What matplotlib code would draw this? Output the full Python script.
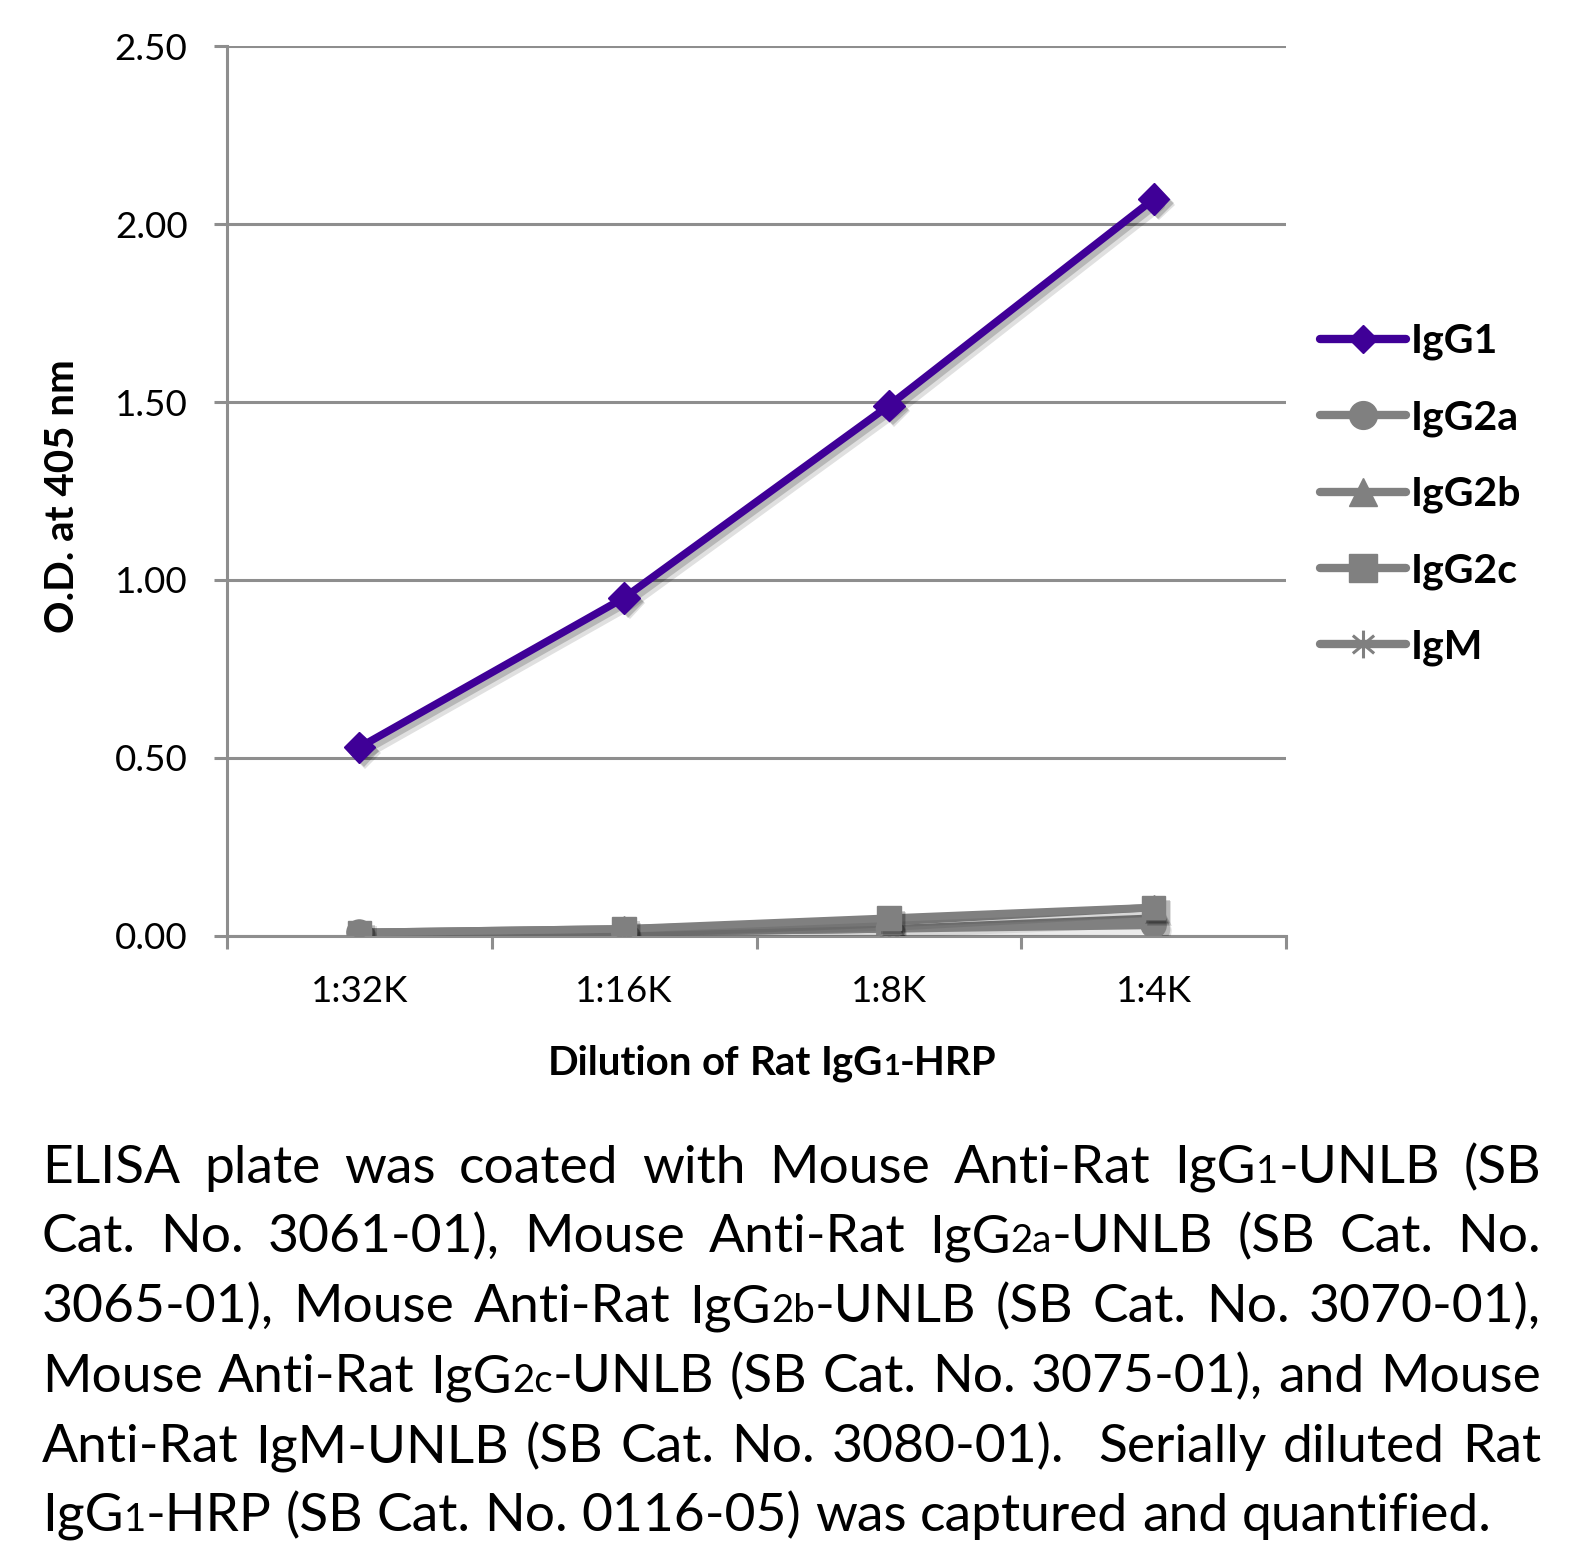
import re
import math
import matplotlib
matplotlib.use("Agg")
import matplotlib.pyplot as plt
import matplotlib.patheffects as pe
from matplotlib.lines import Line2D
from matplotlib.path import Path
from matplotlib.font_manager import FontProperties

# ---------------- data ----------------
dilutions = ["1:32K", "1:16K", "1:8K", "1:4K"]
series_names = ["IgG1", "IgG2a", "IgG2b", "IgG2c", "IgM"]
igg1 = [0.53, 0.95, 1.49, 2.07]
igg2a = [0.01, 0.01, 0.02, 0.03]
igg2b = [0.01, 0.02, 0.04, 0.08]
igg2c = [0.01, 0.02, 0.05, 0.08]
igm = [0.005, 0.01, 0.02, 0.05]
y_ticks = [0.0, 0.5, 1.0, 1.5, 2.0, 2.5]
y_tick_labels = ["0.00", "0.50", "1.00", "1.50", "2.00", "2.50"]

x_title = "Dilution of Rat IgG[1]-HRP"
y_title = "O.D. at 405 nm"
caption_lines = [
    "ELISA plate was coated with Mouse Anti-Rat IgG[1]-UNLB (SB",
    "Cat. No. 3061-01), Mouse Anti-Rat IgG[2a]-UNLB (SB Cat. No.",
    "3065-01), Mouse Anti-Rat IgG[2b]-UNLB (SB Cat. No. 3070-01),",
    "Mouse Anti-Rat IgG[2c]-UNLB (SB Cat. No. 3075-01), and Mouse",
    "Anti-Rat IgM-UNLB (SB Cat. No. 3080-01).  Serially diluted Rat",
    "IgG[1]-HRP (SB Cat. No. 0116-05) was captured and quantified.",
]

# ---------------- style ----------------
FONT = "Lato"
plt.rcParams["font.family"] = [FONT, "DejaVu Sans"]
PURPLE = "#3f0097"
GRAY = "#808080"
GRID = "#8e8e8e"

W, H = 1594, 1547
fig = plt.figure(figsize=(W / 100, H / 100), dpi=100)
fig.patch.set_facecolor("white")

ax_l, ax_r, ax_t, ax_b = 227, 1286, 46, 936
ax = fig.add_axes([ax_l / W, 1 - ax_b / H, (ax_r - ax_l) / W, (ax_b - ax_t) / H])

xs = list(range(len(dilutions)))

# asterisk marker for IgM
verts, codes = [], []
for a in [90, 40, 140]:
    dx, dy = math.cos(math.radians(a)), math.sin(math.radians(a))
    verts += [(-dx, -dy), (dx, dy)]
    codes += [Path.MOVETO, Path.LINETO]
star = Path(verts, codes)

styles = {
    "IgG1": dict(color=PURPLE, marker="D", ms=16),
    "IgG2a": dict(color=GRAY, marker="o", ms=18),
    "IgG2b": dict(color=GRAY, marker="^", ms=18),
    "IgG2c": dict(color=GRAY, marker="s", ms=17),
    "IgM": dict(color=GRAY, marker=star, ms=17),
}
values = {"IgG1": igg1, "IgG2a": igg2a, "IgG2b": igg2b, "IgG2c": igg2c, "IgM": igm}

purple_shadow = [pe.SimpleLineShadow(offset=(4, -4), shadow_color="k", alpha=0.12, linewidth=9),
                 pe.SimpleLineShadow(offset=(3, -3), shadow_color="k", alpha=0.18), pe.Normal()]
gray_shadow = [pe.SimpleLineShadow(offset=(3, -3), shadow_color="k", alpha=0.08, linewidth=7), pe.Normal()]
mark_shadow = [pe.SimplePatchShadow(offset=(4, -4), shadow_rgbFace="k", alpha=0.12),
               pe.SimplePatchShadow(offset=(3, -3), shadow_rgbFace="k", alpha=0.18), pe.Normal()]

order = ["IgM", "IgG2a", "IgG2b", "IgG2c", "IgG1"]
for z, name in enumerate(order):
    st = styles[name]
    ax.plot(xs, values[name], color=st["color"], lw=5.5, solid_capstyle="round",
            path_effects=purple_shadow if name == "IgG1" else gray_shadow, zorder=3 + z)
for z, name in enumerate(order):
    st = styles[name]
    if name == "IgM":
        ax.plot(xs, values[name], ls="none", marker=st["marker"], ms=st["ms"],
                mec=st["color"], mew=2.5, zorder=10 + z)
    else:
        ax.plot(xs, values[name], ls="none", marker=st["marker"], ms=st["ms"],
                mfc=st["color"], mec=st["color"], path_effects=mark_shadow, zorder=10 + z)

ax.set_xlim(-0.5, len(dilutions) - 0.5)
ax.set_ylim(0, 2.5)

for s in ["top", "right"]:
    ax.spines[s].set_visible(False)
for s in ["left", "bottom"]:
    ax.spines[s].set_color(GRID)
    ax.spines[s].set_linewidth(2.2)
    ax.spines[s].set_zorder(2)

ax.set_yticks(y_ticks)
ax.set_yticklabels(y_tick_labels)
ax.yaxis.grid(True, color=GRID, lw=2.2, zorder=1)
ax.set_axisbelow(True)
ax.tick_params(axis="y", direction="out", length=9.4, width=2.2, color=GRID,
               pad=19, labelsize=26.5, labelcolor="black")

ax.set_xticks(xs)
ax.set_xticklabels(dilutions)
ax.set_xticks([i - 0.5 for i in range(len(dilutions) + 1)], minor=True)
ax.tick_params(axis="x", which="major", length=0, pad=28, labelsize=26.5, labelcolor="black")
ax.tick_params(axis="x", which="minor", direction="out", length=9.4, width=2.2, color=GRID)

# legend
handles = []
for name in series_names:
    st = styles[name]
    if name == "IgM":
        h = Line2D([], [], color=st["color"], lw=6, solid_capstyle="round", marker=st["marker"],
                   ms=20, mec=st["color"], mew=2.2)
    elif name == "IgG1":
        h = Line2D([], [], color=st["color"], lw=6, solid_capstyle="round", marker=st["marker"],
                   ms=14, mfc=st["color"], mec=st["color"])
    else:
        h = Line2D([], [], color=st["color"], lw=6, solid_capstyle="round", marker=st["marker"],
                   ms=20, mfc=st["color"], mec=st["color"])
    handles.append(h)
leg_fs = 29.5
leg = fig.legend(handles, series_names, loc="upper left", bbox_to_anchor=(1320 / W, 1 - 323 / H),
                 frameon=False, prop=FontProperties(family=FONT, weight="bold", size=leg_fs),
                 handlelength=2.1, handletextpad=0.12, labelspacing=0.95,
                 borderpad=0, borderaxespad=0)

# ---------------- rich text helpers ----------------
renderer = fig.canvas.get_renderer()


def parse(word):
    runs = []
    for small, normal in re.findall(r"\[([^\]]*)\]|([^\[]+)", word):
        if small:
            runs.append((small, True))
        if normal:
            runs.append((normal, False))
    return runs


def width(s, fp):
    return renderer.get_text_width_height_descent(s, fp, ismath=False)[0]


def word_width(runs, fp, fps):
    return sum(width(t, fps if sm else fp) for t, sm in runs)


def draw_runs(x, baseline, runs, fp, fps, **kw):
    for t, sm in runs:
        f = fps if sm else fp
        fig.text(x / W, 1 - baseline / H, t, fontproperties=f, ha="left", va="baseline", **kw)
        x += width(t, f)
    return x


def split_words(line):
    words, gaps, extra = [], [], 0
    for p in line.split(" "):
        if p == "":
            extra += 1
            continue
        if words:
            gaps.append(1 + extra)
        extra = 0
        words.append(parse(p))
    return words, gaps


# x-axis title
ts = 29
fp_t = FontProperties(family=FONT, weight="bold", size=ts)
fp_ts = FontProperties(family=FONT, weight="bold", size=ts * 0.72)
words, gaps = split_words(x_title)
sp = width("a a", fp_t) - width("aa", fp_t)
tot = sum(word_width(w, fp_t, fp_ts) for w in words) + sp * sum(gaps)
x = 772 - tot / 2
for j, w in enumerate(words):
    x = draw_runs(x, 1075, w, fp_t, fp_ts)
    if j < len(gaps):
        x += sp * gaps[j]

# y-axis title
fig.text(62 / W, 1 - 496 / H, y_title, rotation=90, ha="center", va="center",
         fontproperties=FontProperties(family=FONT, weight="bold", size=29))

# caption
cap_left, cap_right = 42, 1541
baselines = [1183, 1252, 1322, 1392, 1462, 1531]
base_size = 40
fp0 = FontProperties(family=FONT, size=base_size)
lw_, lg_ = split_words(caption_lines[-1])
nat = sum(word_width(w, fp0, fp0) for w in lw_) + (width("a a", fp0) - width("aa", fp0)) * sum(lg_)
size = base_size * min(1.0, 1458 / nat)
fp_c = FontProperties(family=FONT, size=size)
fp_cs = FontProperties(family=FONT, size=size * 0.72)
sp_c = width("a a", fp_c) - width("aa", fp_c)

for i, line in enumerate(caption_lines):
    words, gaps = split_words(line)
    wsum = sum(word_width(w, fp_c, fp_cs) for w in words)
    if i < len(caption_lines) - 1 and gaps:
        unit = (cap_right - cap_left - wsum) / sum(gaps)
    else:
        unit = sp_c
    x = cap_left
    for j, w in enumerate(words):
        x = draw_runs(x, baselines[i], w, fp_c, fp_cs)
        if j < len(gaps):
            x += unit * gaps[j]

fig.savefig("out.png", dpi=100, facecolor="white")
